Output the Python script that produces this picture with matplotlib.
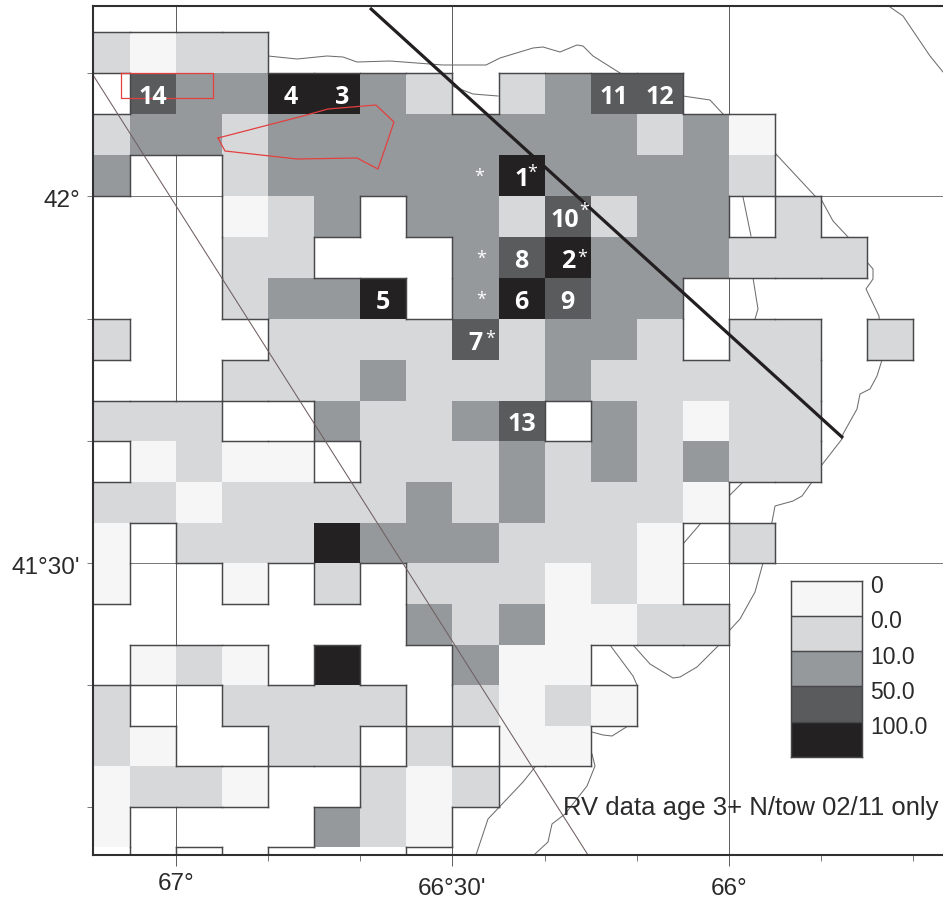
import numpy as np
import matplotlib
matplotlib.use("Agg")
import matplotlib.pyplot as plt
from matplotlib.collections import LineCollection
from matplotlib.colors import ListedColormap, BoundaryNorm
from matplotlib.ticker import NullFormatter
from matplotlib.transforms import ScaledTranslation

# ---- data: survey grid, 1/12 deg lon x 1/18 deg lat ('.' = no tows, w = blank tow)
grid_rows = [
    "1011",
    ".322442" + "1.1233",
    "1221" + "22222222" + "120",
    "2..1" + "22222" + "4" + "2222" + "1",
    "...012.22131" + "22.1",
    "...11...234222111",
    "...1224.24322",
    "1...1111" + "3" + "1" + "22" + "1.11.1",
    "...111" + "2" + "111" + "2" + "11111",
    "111.." + "2" + "11" + "2" + "3" + ".2" + "10" + "11",
    ".0100." + "111" + "2" + "1" + "2" + "1" + "2" + "11",
    "110" + "1111" + "2" + "1" + "2" + "111" + "0",
    "0." + "111" + "4" + "222" + "111" + "0.1",
    "0..0.1." + "111" + "010",
    "......." + "212" + "00" + "11",
    ".0" + "10.4.." + "200",
    "1.." + "1111" + "." + "1010",
    "10..11.1.00",
    "0110..101",
    "0....210",
    "w.w.www",
]
legend_labels = ["0", "0.0", "10.0", "50.0", "100.0"]
level_colors = ["#ffffff", "#f6f6f7", "#d7d8da", "#96999c", "#5a5b5d", "#232122"]
cell_labels = [(1, 1, "14"), (4, 1, "4"), (5, 1, "3"), (11, 1, "11"), (12, 1, "12"),
               (9, 3, "1"), (10, 4, "10"), (9, 5, "8"), (10, 5, "2"), (9, 6, "6"),
               (10, 6, "9"), (6, 6, "5"), (8, 7, "7"), (9, 9, "13")]
label_dx = {"3": 5, "10": -3}
star_cells = [(9, 3, 11, -7), (10, 4, 16, -10), (10, 5, 14, -4), (8, 7, 15, -4),
              (8, 3, 4, -3), (8, 5, 6, -3), (8, 6, 6, -3)]
xtick_lons = [67.0, 66.5, 66.0]
xtick_text = ["67°", "66°30'", "66°"]
ytick_lats = [42.0, 41.5]
ytick_text = ["42°", "41°30'"]
xminor_lons = [66 + k / 6 for k in range(-2, 6)]
yminor_lats = [42.0 + k / 6 for k in range(1, -6, -1)]
caption = "RV data age 3+ N/tow 02/11 only"

front_line = [(370, 9), (843, 439)]
diag_line = [(93, 76), (588, 856)]
red_box = [(121, 74), (213, 74), (213, 99), (121, 99), (121, 74)]
red_area = [(218, 139), (225, 152), (297, 160), (357, 159), (378, 170), (394, 123),
            (376, 106), (328, 110), (303, 117), (218, 139)]
coast_traces = [
    [(268, 57), (297, 60), (327, 57), (343, 58), (357, 63), (390, 62), (443, 66), (486, 66),
     (500, 59), (533, 49), (543, 48), (560, 53), (577, 46), (583, 47), (593, 57), (620, 74),
     (683, 97), (710, 101), (723, 115), (775, 154), (815, 197), (821, 200), (833, 222),
     (848, 238), (867, 263), (873, 270), (873, 280), (866, 290), (879, 317), (882, 361),
     (877, 377), (870, 390), (860, 395), (857, 410), (843, 435), (842, 440), (821, 467),
     (812, 483), (802, 497), (793, 502), (775, 507), (772, 523), (763, 564), (755, 593),
     (740, 620), (728, 633), (719, 646), (697, 668), (680, 678), (673, 679), (650, 665),
     (633, 646)],
    [(610, 646), (633, 677), (637, 686), (637, 712), (628, 727), (612, 737), (603, 736),
     (592, 733)],
    [(592, 755), (595, 767), (587, 787), (565, 815), (552, 825), (548, 843), (535, 855)],
    [(535, 768), (523, 783), (488, 820), (476, 856)],
    [(890, 8), (903, 17), (930, 57), (943, 73)],
    [(452, 87), (473, 95), (498, 97)],
    [(743, 198), (751, 237)],
    [(753, 279), (758, 310), (755, 320)],
    [(743, 483), (729, 497)],
    [(701, 524), (683, 545)],
]

# ---- figure
W, H = 943, 904
plt.rcParams["font.family"] = ["Liberation Sans", "DejaVu Sans"]
fig = plt.figure(figsize=(W / 100, H / 100), dpi=100)
AX_L, AX_R, AX_T, AX_B = 93, 943, 6.5, 856
ax = fig.add_axes([AX_L / W, 1 - AX_B / H, (AX_R - AX_L) / W, (AX_B - AX_T) / H])


def merc(lat):
    return np.degrees(np.log(np.tan(np.pi / 4 + np.radians(lat) / 2)))


def merc_inv(m):
    return np.degrees(2 * np.arctan(np.exp(np.radians(m))) - np.pi / 2)


PX_PER_MERC = (564.5 - 197) / (merc(42.0) - merc(41.5))


def lon_of(px):
    return 67 - (np.asarray(px, float) - 176) / 553.0


def lat_of(py):
    return merc_inv(merc(42.0) - (np.asarray(py, float) - 197) / PX_PER_MERC)


def trace(points):
    p = np.array(points, float)
    return lon_of(p[:, 0]), lat_of(p[:, 1])


ax.set_yscale("function", functions=(merc, merc_inv))
ax.set_xlim(lon_of(AX_L), lon_of(AX_R))
ax.set_ylim(lat_of(AX_B), lat_of(AX_T))

NC, NR = 19, len(grid_rows)
rows = [r.ljust(NC, ".") for r in grid_rows]
lon_edges = 67 + (2 - np.arange(NC + 1)) / 12
lat_edges = 42 + (4 - np.arange(NR + 1)) / 18
code = {"w": 0, "0": 1, "1": 2, "2": 3, "3": 4, "4": 5}
Z = np.ma.masked_equal(
    np.array([[code.get(ch, -1) for ch in r] for r in rows]), -1)
cmap = ListedColormap(level_colors)
norm = BoundaryNorm(np.arange(-0.5, 6.5), cmap.N)
ax.pcolormesh(lon_edges, lat_edges, Z, cmap=cmap, norm=norm, zorder=2,
              antialiased=False, linewidth=0)


def filled(r, c):
    return 0 <= r < NR and 0 <= c < NC and rows[r][c] != "."


segs = []
for r in range(NR):
    for c in range(NC):
        if not filled(r, c):
            continue
        if not filled(r - 1, c):
            segs.append([(lon_edges[c], lat_edges[r]), (lon_edges[c + 1], lat_edges[r])])
        if not filled(r + 1, c):
            segs.append([(lon_edges[c], lat_edges[r + 1]), (lon_edges[c + 1], lat_edges[r + 1])])
        if not filled(r, c - 1):
            segs.append([(lon_edges[c], lat_edges[r]), (lon_edges[c], lat_edges[r + 1])])
        if not filled(r, c + 1):
            segs.append([(lon_edges[c + 1], lat_edges[r]), (lon_edges[c + 1], lat_edges[r + 1])])
ax.add_collection(LineCollection(segs, colors="#48484a", linewidths=1.05, zorder=3,
                                 capstyle="projecting"))

# graticule and coast (under the cells)
for v in xtick_lons:
    ax.axvline(v, color="#5c5c5e", lw=0.7, zorder=1)
for v in ytick_lats:
    ax.axhline(v, color="#77777a", lw=0.7, zorder=1)
for t in coast_traces:
    ax.plot(*trace(t), color="#6e6e70", lw=0.75, zorder=1.5)

# overlays
ax.plot(*trace(diag_line), color="#6f5f60", lw=0.75, zorder=4)
ax.plot(*trace(front_line), color="#231f20", lw=2.3, zorder=4.5, solid_capstyle="butt")
ax.plot(*trace(red_box), color="#e2403f", lw=0.9, zorder=5)
ax.plot(*trace(red_area), color="#e2403f", lw=0.9, zorder=5)

# cell labels
lon_c = 0.5 * (lon_edges[:-1] + lon_edges[1:])
lat_c = 0.5 * (lat_edges[:-1] + lat_edges[1:])
for c, r, s in cell_labels:
    off = ScaledTranslation(label_dx.get(s, 0) / 100, 0, fig.dpi_scale_trans)
    ax.text(lon_c[c], lat_c[r], s, color="white", fontsize=18, fontweight="bold",
            family="Open Sans", ha="center", va="center_baseline", zorder=6,
            transform=ax.transData + off)
for c, r, dx, dy in star_cells:
    off = ScaledTranslation(dx / 100, -dy / 100 - 0.03, fig.dpi_scale_trans)
    ax.text(lon_c[c], lat_c[r], "*", color="white", fontsize=13, family="Open Sans",
            ha="center", va="center", zorder=6, transform=ax.transData + off)

# axes furniture
for s in ("left", "bottom", "top"):
    ax.spines[s].set_linewidth(1.5)
    ax.spines[s].set_color("#303032")
    ax.spines[s].set_zorder(7)
ax.spines["right"].set_visible(False)
ax.set_xticks(xtick_lons, xtick_text, fontsize=17.5, color="#2a2a2c")
ax.set_yticks(ytick_lats, ytick_text, fontsize=17.5, color="#2a2a2c")
ax.set_xticks(xminor_lons, minor=True)
ax.set_yticks(yminor_lats, minor=True)
ax.yaxis.set_minor_formatter(NullFormatter())
ax.tick_params(axis="x", which="major", length=8, width=0.7, color="#5c5c5e", pad=8)
ax.tick_params(axis="x", which="minor", length=4.5, width=0.7, color="#77777a")
ax.tick_params(axis="y", which="both", length=4.5, width=0.7, color="#77777a", pad=4.5)
lab67 = ax.get_xticklabels()[0]
lab67.set_transform(lab67.get_transform() + ScaledTranslation(0, 0.05, fig.dpi_scale_trans))
for lab in ax.get_yticklabels():
    lab.set_transform(lab.get_transform() + ScaledTranslation(0, -0.015, fig.dpi_scale_trans))

ax.text(lon_of(563), lat_of(815), caption, fontsize=18.45, color="#2a2a2c",
        ha="left", va="baseline", zorder=6)

# legend
LX0, LX1, LY0, LY1 = 790.7, 862, 581.7, 758
lax = fig.add_axes([LX0 / W, 1 - LY1 / H, (LX1 - LX0) / W, (LY1 - LY0) / H])
n = len(legend_labels)
lax.pcolormesh([0, 1], np.arange(n + 1), np.arange(1, n + 1)[:, None], cmap=cmap, norm=norm)
lax.set_xlim(0, 1)
lax.set_ylim(n, 0)
lax.set_xticks([])
lax.set_yticks(np.arange(n) + 0.07, legend_labels, fontsize=16.5, color="#2a2a2c")
lax.yaxis.tick_right()
lax.tick_params(axis="y", length=0, pad=6)
for i in range(1, n):
    lax.axhline(i, color="#48484a", lw=1.05)
for s in lax.spines.values():
    s.set_linewidth(1.05)
    s.set_color("#48484a")

fig.savefig("out.png", dpi=100)
